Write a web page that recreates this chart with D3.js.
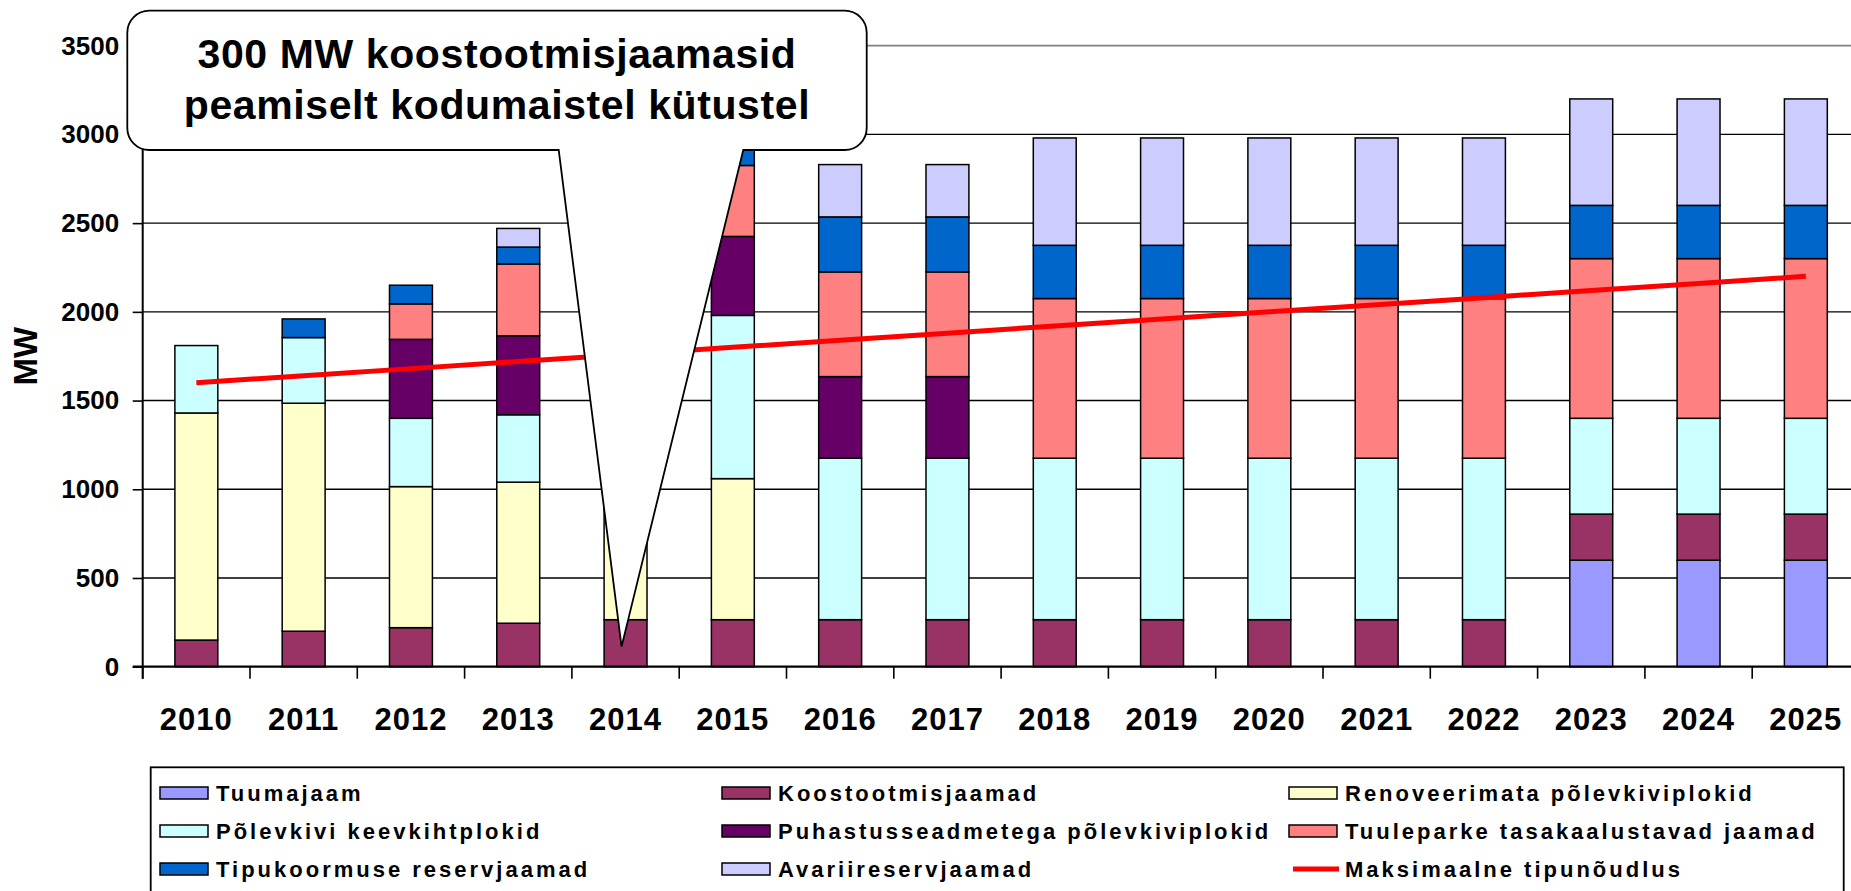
<!DOCTYPE html>
<html>
<head>
<meta charset="utf-8">
<script src="https://cdn.jsdelivr.net/npm/d3@7"></script>
<style>
  html, body { margin: 0; padding: 0; background: #fff; overflow: hidden; }
  svg { display: block; font-family: "Liberation Sans", Arial, Helvetica, sans-serif; font-weight: bold; }
</style>
</head>
<body>
<svg id="chart" width="1851" height="891"></svg>
<script>
// ---------------- DATA ----------------
const years = ["2010","2011","2012","2013","2014","2015","2016","2017","2018","2019","2020","2021","2022","2023","2024","2025"];
const tuumajaam     = [0,0,0,0,0,0,0,0,0,0,0,0,0,600,600,600];
const koostootmis   = [150,200,220,245,265,265,265,265,265,265,265,265,265,260,260,260];
const renoveerimata = [1280,1285,795,795,800,795,0,0,0,0,0,0,0,0,0,0];
const keevkiht      = [380,370,385,380,380,920,910,910,910,910,910,910,910,540,540,540];
const puhastus      = [0,0,445,445,445,445,460,460,0,0,0,0,0,0,0,0];
const tuulepark     = [0,0,200,405,400,400,590,590,900,900,900,900,900,900,900,900];
const tipukoormus   = [0,105,105,95,100,300,310,310,300,300,300,300,300,300,300,300];
const avarii        = [0,0,0,105,100,0,295,295,605,605,605,605,605,600,600,600];
const tipunoudlus   = [1600,1640,1680,1720,1760,1800,1840,1880,1920,1960,2000,2040,2080,2120,2160,2200];
const yTicks = [0,500,1000,1500,2000,2500,3000,3500];

const seriesNames = ["Tuumajaam","Koostootmisjaamad","Renoveerimata põlevkiviplokid","Põlevkivi keevkihtplokid",
  "Puhastusseadmetega põlevkiviplokid","Tuuleparke tasakaalustavad jaamad","Tipukoormuse reservjaamad","Avariireservjaamad"];
const seriesValues = [tuumajaam, koostootmis, renoveerimata, keevkiht, puhastus, tuulepark, tipukoormus, avarii];
const seriesColors = ["#9999FF","#993366","#FFFFCC","#CCFFFF","#660066","#FF8080","#0066CC","#CCCCFF"];
const lineName = "Maksimaalne tipunõudlus";
const calloutLines = ["300 MW koostootmisjaamasid", "peamiselt kodumaistel kütustel"];

// ---------------- LAYOUT ----------------
const svg = d3.select("#chart");
const plotLeft = 142.7, plotRight = 1859.5, plotTop = 45.7, plotBottom = 666.7;

const x = d3.scaleBand().domain(years).range([plotLeft, plotRight]).paddingInner(0.6).paddingOuter(0.3);
const y = d3.scaleLinear().domain([0, 3500]).range([plotBottom, plotTop]);

const table = years.map((yr, i) => {
  const o = { year: yr };
  seriesNames.forEach((n, k) => o[n] = seriesValues[k][i]);
  return o;
});
const stack = d3.stack().keys(seriesNames)(table);

// gridlines
svg.append("g").selectAll("line").data(yTicks.filter(t => t > 0)).join("line")
  .attr("x1", plotLeft).attr("x2", 1851)
  .attr("y1", d => y(d)).attr("y2", d => y(d))
  .attr("stroke", d => d === 3500 ? "#808080" : "#000")
  .attr("stroke-width", d => d === 3500 ? 1.8 : 1.4);

// bars
const gBars = svg.append("g");
stack.forEach((s, k) => {
  gBars.append("g").selectAll("rect")
    .data(s.filter(d => d[1] - d[0] > 0))
    .join("rect")
    .attr("x", d => x(d.data.year))
    .attr("width", x.bandwidth())
    .attr("y", d => y(d[1]))
    .attr("height", d => y(d[0]) - y(d[1]))
    .attr("fill", seriesColors[k])
    .attr("stroke", "#000")
    .attr("stroke-width", 1.5);
});

// demand line
const line = d3.line().x((d, i) => x(years[i]) + x.bandwidth() / 2).y(d => y(d));
svg.append("path").datum(tipunoudlus).attr("d", line)
  .attr("fill", "none").attr("stroke", "#FF0000").attr("stroke-width", 5);

// y axis
const yAxis = d3.axisLeft(y).tickValues(yTicks).tickSize(10).tickPadding(13.5).tickFormat(d3.format("d"));
const gy = svg.append("g").attr("transform", `translate(${plotLeft},0)`).call(yAxis);
gy.select(".domain").remove();
gy.selectAll(".tick line").attr("stroke", "#000").attr("stroke-width", 1.6);
gy.selectAll("text").attr("font-size", 26).attr("font-weight", "bold").attr("fill", "#000")
  .attr("font-family", '"Liberation Sans", Arial, sans-serif');
svg.append("line").attr("x1", plotLeft).attr("x2", plotLeft).attr("y1", plotTop).attr("y2", plotBottom + 12)
  .attr("stroke", "#000").attr("stroke-width", 2);

// x axis
svg.append("line").attr("x1", plotLeft - 10).attr("x2", 1851).attr("y1", plotBottom).attr("y2", plotBottom)
  .attr("stroke", "#000").attr("stroke-width", 2.2);
const boundaries = years.map(yr => x(yr) - x.step() * x.paddingOuter());
svg.append("g").selectAll("line").data(boundaries).join("line")
  .attr("x1", d => d).attr("x2", d => d).attr("y1", plotBottom).attr("y2", plotBottom + 12)
  .attr("stroke", "#000").attr("stroke-width", 1.6);
const xAxis = d3.axisBottom(x).tickSize(0).tickPadding(0);
const gx = svg.append("g").attr("transform", `translate(0,${plotBottom})`).call(xAxis);
gx.select(".domain").remove();
gx.selectAll("text").attr("font-size", 31).attr("font-weight", "bold").attr("fill", "#000")
  .attr("letter-spacing", 1).attr("dy", null).attr("y", 63)
  .attr("font-family", '"Liberation Sans", Arial, sans-serif');

// y title
svg.append("text").attr("transform", `translate(37,${(plotTop + plotBottom) / 2}) rotate(-90)`)
  .attr("text-anchor", "middle").attr("font-size", 33).text("MW");

// callout
const bx0 = 127.3, by0 = 10.7, bx1 = 866.7, by1 = 150, r = 22;
const tipX = x("2014") + x.bandwidth() / 2 - 4, tipY = y(113);
const pL = 558.7, pR = 743.3;
const cp = `M${bx0 + r},${by0} H${bx1 - r} A${r},${r} 0 0 1 ${bx1},${by0 + r} V${by1 - r} A${r},${r} 0 0 1 ${bx1 - r},${by1}
 H${pR} L${tipX},${tipY} L${pL},${by1} H${bx0 + r} A${r},${r} 0 0 1 ${bx0},${by1 - r} V${by0 + r} A${r},${r} 0 0 1 ${bx0 + r},${by0} Z`;
svg.append("path").attr("d", cp).attr("fill", "#fff").attr("stroke", "#000").attr("stroke-width", 1.8);
svg.append("g").selectAll("text").data(calloutLines).join("text")
  .attr("x", (bx0 + bx1) / 2).attr("y", (d, i) => 68.3 + i * 51)
  .attr("text-anchor", "middle").attr("font-size", 41).attr("letter-spacing", 0.6).text(d => d);

// legend
const legTop = 767.3;
svg.append("rect").attr("x", 150.7).attr("y", legTop).attr("width", 1843.7 - 150.7).attr("height", 200)
  .attr("fill", "#fff").attr("stroke", "#000").attr("stroke-width", 1.8);
const colX = [160, 722, 1289];
const rowY = [793, 831, 869];
const legendItems = seriesNames.map((n, k) => ({ name: n, color: seriesColors[k], type: "rect" }))
  .concat([{ name: lineName, color: "#FF0000", type: "line" }]);
const gl = svg.append("g");
legendItems.forEach((it, i) => {
  const cx = colX[i % 3], cy = rowY[Math.floor(i / 3)];
  if (it.type === "rect") {
    gl.append("rect").attr("x", cx).attr("y", cy - 6).attr("width", 48).attr("height", 12)
      .attr("fill", it.color).attr("stroke", "#000").attr("stroke-width", 1.5);
  } else {
    gl.append("line").attr("x1", cx + 4).attr("x2", cx + 50).attr("y1", cy).attr("y2", cy)
      .attr("stroke", it.color).attr("stroke-width", 5);
  }
  gl.append("text").attr("x", cx + 56).attr("y", cy).attr("dy", "0.36em")
    .attr("font-size", 22).attr("letter-spacing", 3).text(it.name);
});
</script>
</body>
</html>
